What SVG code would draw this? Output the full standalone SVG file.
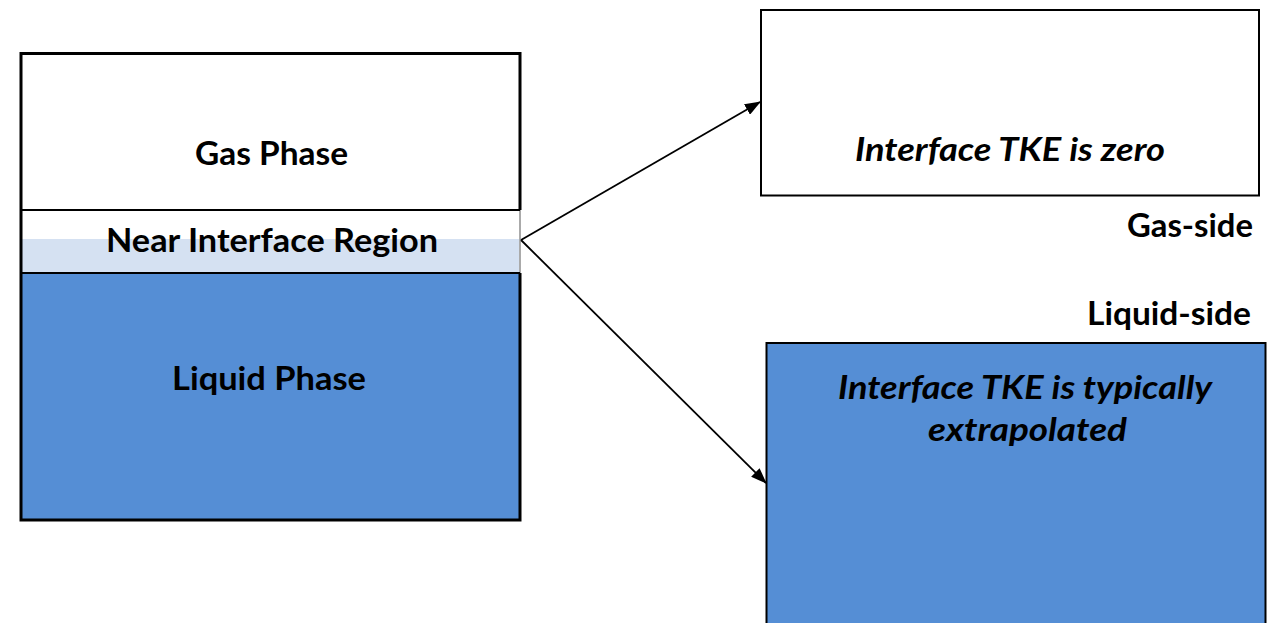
<svg xmlns="http://www.w3.org/2000/svg" width="1273" height="623" viewBox="0 0 1273 623">
  <defs>
    <marker id="arrow" viewBox="0 0 16 12" refX="15" refY="6" markerWidth="16" markerHeight="12" markerUnits="userSpaceOnUse" orient="auto">
      <path d="M0,0 L16,6 L0,12 Z" fill="#000"/>
    </marker>
    <style>
      .lbl { font-family: Lato, "Open Sans", "Liberation Sans", sans-serif; font-weight: bold; font-size: 33px; fill: #000; text-anchor: middle; }
      .it { font-style: italic; }
      .thick { stroke: #000; stroke-width: 3; fill: none; }
      .thin { stroke: #000; stroke-width: 2; fill: none; }
      .conn { stroke: #000; stroke-width: 1.8; fill: none; }
    </style>
  </defs>
  <rect width="1273" height="623" fill="#fff"/>

  <g id="left-box">
    <g id="gas-phase">
      <rect x="21" y="53.5" width="499" height="156.5" fill="#fff"/>
      <text class="lbl" x="271.5" y="165" textLength="153" lengthAdjust="spacingAndGlyphs">Gas Phase</text>
    </g>
    <g id="near-interface">
      <rect x="21" y="210" width="499" height="29" fill="#fff"/>
      <rect x="21" y="239" width="499" height="34" fill="#D5E1F2"/>
      <line x1="520" y1="210" x2="520" y2="273" stroke="#aaa" stroke-width="2"/>
      <text class="lbl" x="272" y="252" textLength="332" lengthAdjust="spacingAndGlyphs">Near Interface Region</text>
    </g>
    <g id="liquid-phase">
      <rect x="21" y="273" width="499" height="247" fill="#558ED5"/>
      <text class="lbl" x="269" y="390" textLength="194" lengthAdjust="spacingAndGlyphs">Liquid Phase</text>
    </g>
    <path class="thick" d="M520,210 L520,53.5 L21,53.5 L21,520 L520,520 L520,273"/>
    <line class="thin" x1="21" y1="210" x2="520" y2="210"/>
    <line class="thin" x1="21" y1="273" x2="520" y2="273"/>
  </g>

  <g id="gas-side-box">
    <rect class="thin" x="761" y="10" width="498" height="185.5" fill="#fff"/>
    <text class="lbl it" x="1010" y="161" textLength="310" lengthAdjust="spacingAndGlyphs">Interface TKE is zero</text>
  </g>
  <g id="gas-side-label">
    <text class="lbl" x="1190" y="237" textLength="126" lengthAdjust="spacingAndGlyphs">Gas-side</text>
  </g>

  <g id="liquid-side-label">
    <text class="lbl" x="1169" y="325" textLength="164" lengthAdjust="spacingAndGlyphs">Liquid-side</text>
  </g>
  <g id="liquid-side-box">
    <rect x="766.5" y="343" width="499" height="300" fill="#558ED5" stroke="#000" stroke-width="2"/>
    <text class="lbl it" x="1025" y="399" textLength="374" lengthAdjust="spacingAndGlyphs">Interface TKE is typically</text>
    <text class="lbl it" x="1027.5" y="441" textLength="199" lengthAdjust="spacingAndGlyphs">extrapolated</text>
  </g>

  <g id="connectors">
    <line class="conn" x1="521" y1="240" x2="760" y2="102" marker-end="url(#arrow)"/>
    <line class="conn" x1="521" y1="240" x2="766" y2="483" marker-end="url(#arrow)"/>
  </g>
</svg>
